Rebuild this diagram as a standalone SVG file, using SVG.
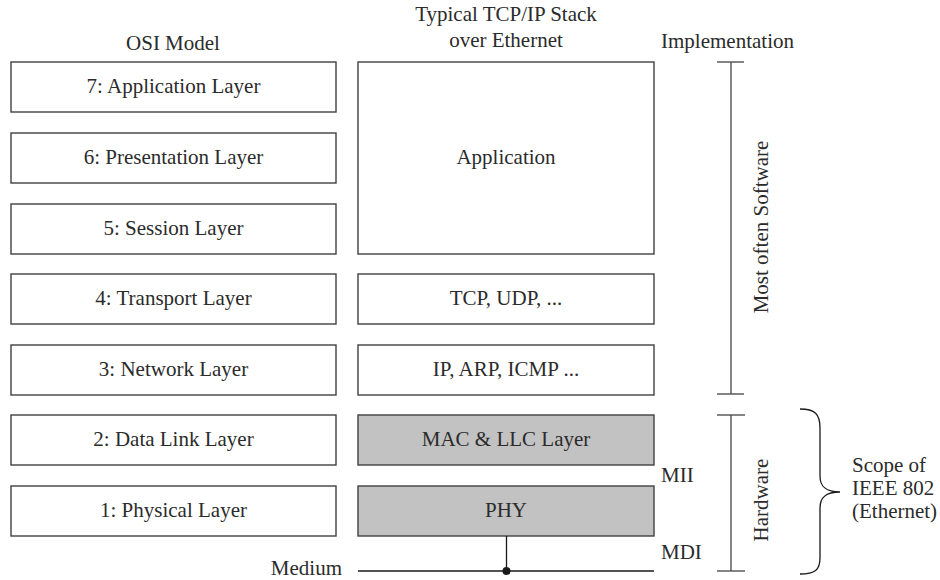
<svg xmlns="http://www.w3.org/2000/svg" width="940" height="580" viewBox="0 0 940 580">
  <style>
    text { font-family: "Liberation Serif", "DejaVu Serif", serif; font-size: 21px; fill: #2b2b2b; }
    .c { text-anchor: middle; }
    .box { fill: #ffffff; stroke: #404040; stroke-width: 1.4; }
    .hw { fill: #c2c2c2; stroke: #404040; stroke-width: 1.4; }
    .ln { stroke: #505050; stroke-width: 1.4; fill: none; }
    .wire { stroke: #1a1a1a; stroke-width: 1.3; fill: none; }
  </style>
  <rect width="940" height="580" fill="#ffffff"/>

  <!-- column headings -->
  <g id="headings">
    <text class="c" x="173" y="50">OSI Model</text>
    <text class="c" x="506" y="21">Typical TCP/IP Stack</text>
    <text class="c" x="506" y="47">over Ethernet</text>
    <text x="661" y="48">Implementation</text>
  </g>

  <!-- OSI layers -->
  <g id="osi7"><rect class="box" x="11" y="62" width="325" height="50"/><text class="c" x="173.5" y="93">7: Application Layer</text></g>
  <g id="osi6"><rect class="box" x="11" y="133" width="325" height="50"/><text class="c" x="173.5" y="164">6: Presentation Layer</text></g>
  <g id="osi5"><rect class="box" x="11" y="204" width="325" height="50"/><text class="c" x="173.5" y="235">5: Session Layer</text></g>
  <g id="osi4"><rect class="box" x="11" y="274" width="325" height="50"/><text class="c" x="173.5" y="305">4: Transport Layer</text></g>
  <g id="osi3"><rect class="box" x="11" y="345" width="325" height="50"/><text class="c" x="173.5" y="376">3: Network Layer</text></g>
  <g id="osi2"><rect class="box" x="11" y="415" width="325" height="50"/><text class="c" x="173.5" y="446">2: Data Link Layer</text></g>
  <g id="osi1"><rect class="box" x="11" y="486" width="325" height="50"/><text class="c" x="173.5" y="517">1: Physical Layer</text></g>

  <!-- TCP/IP stack -->
  <g id="application"><rect class="box" x="358" y="62" width="296" height="192"/><text class="c" x="506" y="164">Application</text></g>
  <g id="transport"><rect class="box" x="358" y="274" width="296" height="50"/><text class="c" x="506" y="305">TCP, UDP, ...</text></g>
  <g id="network"><rect class="box" x="358" y="345" width="296" height="50"/><text class="c" x="506" y="376">IP, ARP, ICMP ...</text></g>
  <g id="mac"><rect class="hw" x="358" y="415" width="296" height="50"/><text class="c" x="506" y="446">MAC &amp; LLC Layer</text></g>
  <g id="phy"><rect class="hw" x="358" y="486" width="296" height="50"/><text class="c" x="506" y="517">PHY</text></g>

  <!-- interface labels -->
  <g id="labels">
    <text x="661" y="482">MII</text>
    <text x="661" y="559">MDI</text>
    <text x="342" y="575" text-anchor="end">Medium</text>
  </g>

  <!-- medium and PHY attachment -->
  <g id="connectors">
    <line class="wire" x1="358" y1="571" x2="654" y2="571"/>
    <line class="wire" x1="506.5" y1="536" x2="506.5" y2="571"/>
    <circle cx="506.5" cy="571" r="4" fill="#1a1a1a"/>
  </g>

  <!-- implementation ranges -->
  <g id="software-range">
    <line class="ln" x1="731" y1="62" x2="731" y2="394"/>
    <line class="ln" x1="717" y1="62" x2="744" y2="62"/>
    <line class="ln" x1="717" y1="394" x2="744" y2="394"/>
    <text class="c" transform="translate(768 227) rotate(-90)">Most often Software</text>
  </g>
  <g id="hardware-range">
    <line class="ln" x1="731" y1="415" x2="731" y2="571"/>
    <line class="ln" x1="717" y1="415" x2="745" y2="415"/>
    <line class="ln" x1="717" y1="571" x2="745" y2="571"/>
    <text class="c" transform="translate(768 500) rotate(-90)">Hardware</text>
  </g>

  <!-- IEEE 802 scope brace -->
  <g id="scope">
    <path class="wire" d="M800 409 C815 409 820 414 820 428 L820 476 C820 487 826 492 840 492 C826 492 820 497 820 508 L820 558 C820 570 815 574 800 574"/>
    <text x="852" y="472">Scope of</text>
    <text x="852" y="495">IEEE 802</text>
    <text x="852" y="518">(Ethernet)</text>
  </g>
</svg>
